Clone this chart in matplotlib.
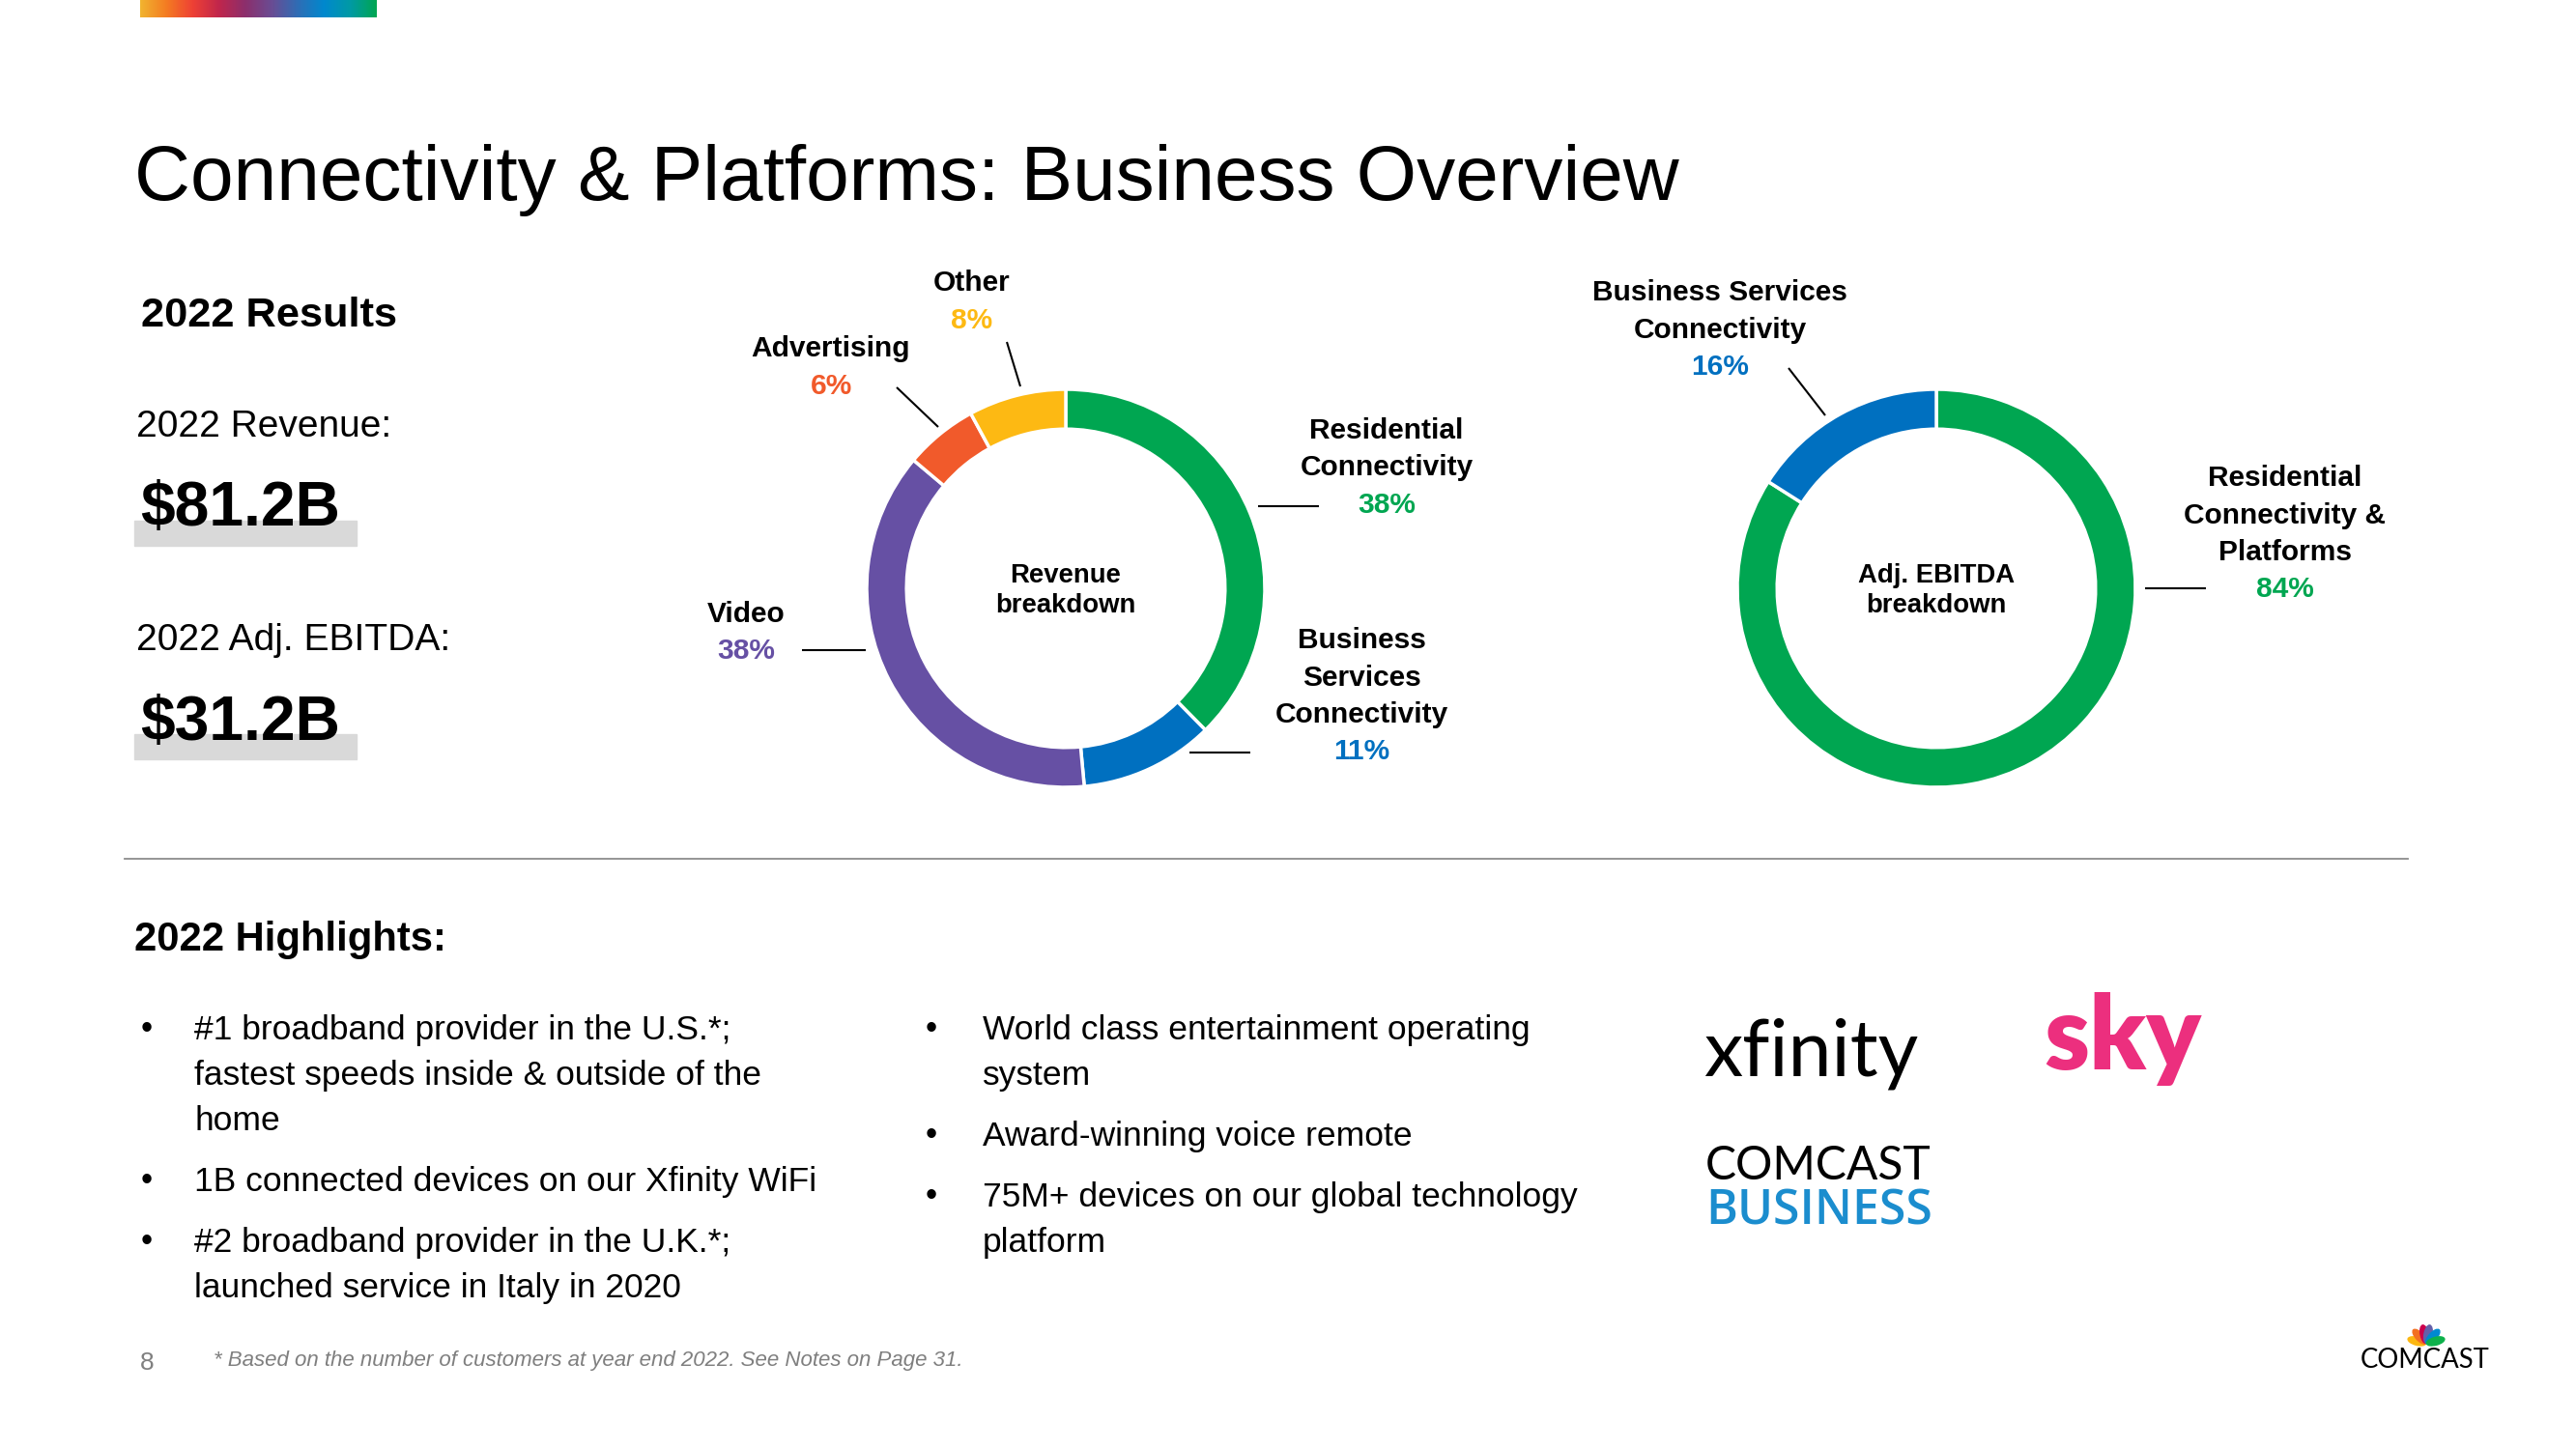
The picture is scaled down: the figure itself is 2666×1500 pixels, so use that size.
import numpy as np
import matplotlib
matplotlib.use("Agg")
import matplotlib.pyplot as plt
from matplotlib.font_manager import FontProperties
from matplotlib.colors import LinearSegmentedColormap
from matplotlib.patches import Rectangle, Ellipse

# ---------------- data ----------------
title = "Connectivity & Platforms: Business Overview"
results_header = "2022 Results"
revenue_label = "2022 Revenue:"
revenue_value = "$81.2B"
ebitda_label = "2022 Adj. EBITDA:"
ebitda_value = "$31.2B"

rev_names = [["Residential", "Connectivity"],
             ["Business", "Services", "Connectivity"],
             ["Video"], ["Advertising"], ["Other"]]
rev_values = [38, 11, 38, 6, 8]
rev_center = ["Revenue", "breakdown"]

ebitda_names = [["Residential", "Connectivity &", "Platforms"],
                ["Business Services", "Connectivity"]]
ebitda_values = [84, 16]
ebitda_center = ["Adj. EBITDA", "breakdown"]

highlights_header = "2022 Highlights:"
bullets_left = [["#1 broadband provider in the U.S.*;", "fastest speeds inside & outside of the", "home"],
                ["1B connected devices on our Xfinity WiFi"],
                ["#2 broadband provider in the U.K.*;", "launched service in Italy in 2020"]]
bullets_right = [["World class entertainment operating", "system"],
                 ["Award-winning voice remote"],
                 ["75M+ devices on our global technology", "platform"]]
footnote = "* Based on the number of customers at year end 2022. See Notes on Page 31."
page_number = "8"
logo_texts = ["xfinity", "sky", "COMCAST", "BUSINESS", "COMCAST"]

# ---------------- styles ----------------
GREEN, BLUE, PURPLE, ORANGE, YELLOW = "#00A651", "#0070C0", "#6650A4", "#F15A2B", "#FDB913"
rev_colors = [GREEN, BLUE, PURPLE, ORANGE, YELLOW]
ebitda_colors = [GREEN, BLUE]
bar_colors = ["#F1B42F", "#F47B22", "#EE4035", "#C0264C", "#8C2F6C", "#6A4C93",
              "#2F6DB5", "#0088CE", "#009AA5", "#00A651"]
peacock_colors = ["#FCB711", "#F37021", "#CC004C", "#6460AA", "#0089D0", "#0DB14B"]

W, H = 2666, 1500
MAIN = ["Liberation Sans", "DejaVu Sans"]
plt.rcParams["font.family"] = MAIN

fig = plt.figure(figsize=(W / 100, H / 100), dpi=100, facecolor="white")
ax0 = fig.add_axes([0, 0, 1, 1])
ax0.set_xlim(0, W)
ax0.set_ylim(H, 0)
ax0.axis("off")
renderer = fig.canvas.get_renderer()


def measure(s, fp):
    return renderer.get_text_width_height_descent(s, fp, ismath=False)


def put(x, y, s, size, weight="normal", color="black", ha="left", style="normal",
        family=None, width=None, clamp=0.12, zorder=4):
    family = family or MAIN
    if width is not None:
        fp = FontProperties(family=family, size=size, weight=weight, style=style)
        w = measure(s, fp)[0]
        size *= float(np.clip(width / w, 1 - clamp, 1 + clamp))
    fp = FontProperties(family=family, size=size, weight=weight, style=style)
    return ax0.text(x, y, s, fontproperties=fp, color=color, ha=ha, va="baseline",
                    parse_math=False, zorder=zorder)


def put_lines(x, y, lines, size, spacing, **kw):
    for i, line in enumerate(lines):
        put(x, y + i * spacing, line, size, **kw)


# ---------------- top gradient bar ----------------
cmap = LinearSegmentedColormap.from_list("bar", bar_colors)
ax0.imshow(np.linspace(0, 1, 256)[None, :], cmap=cmap, extent=[145, 390, 18, 0],
           aspect="auto", zorder=1)

# ---------------- title & results ----------------
put(139, 207, title, 56, width=1598)
put(146, 338, results_header, 31, weight="bold", width=265)
put(141, 452, revenue_label, 28, width=264)
ax0.add_patch(Rectangle((139, 539), 230, 26, color="#D9D9D9", zorder=2))
put(145, 544, revenue_value, 46, weight="bold", width=207)
put(141, 673, ebitda_label, 28, width=325)
ax0.add_patch(Rectangle((139, 760), 230, 26, color="#D9D9D9", zorder=2))
put(145, 766, ebitda_value, 46, weight="bold", width=207)


# ---------------- donuts ----------------
def donut(cx, cy, r, values, colors):
    R = r * 1.02
    ax = fig.add_axes([(cx - R) / W, 1 - (cy + R) / H, 2 * R / W, 2 * R / H])
    ax.pie(values, colors=colors, startangle=90, counterclock=False, radius=1.0,
           wedgeprops=dict(width=0.2, edgecolor="white", linewidth=2.5))
    ax.set_xlim(-1.02, 1.02)
    ax.set_ylim(-1.02, 1.02)
    ax.set_aspect("equal")
    ax.axis("off")
    return ax


donut(1103, 609, 206, rev_values, rev_colors)
donut(2004, 609, 206, ebitda_values, ebitda_colors)

LABEL_SIZE = 21.5
STEP = 38.5
rev_label_pos = [(1435, 454, (1302, 524, 1365, 524)),
                 (1409, 671, (1231, 779, 1294, 779)),
                 (772, 644, (830, 673, 896, 673)),
                 (860, 369, (928, 401, 971, 442)),
                 (1006, 301, (1042, 354, 1056, 400))]
ebitda_label_pos = [(2365, 503, (2220, 609, 2283, 609)),
                    (1780, 311, (1851, 381, 1889, 430))]


def donut_labels(names_list, values, colors, positions):
    for names, v, col, (cx, by, ln) in zip(names_list, values, colors, positions):
        put_lines(cx, by, names, LABEL_SIZE, STEP, weight="bold", ha="center")
        put(cx, by + STEP * len(names), f"{v}%", LABEL_SIZE, weight="bold", ha="center", color=col)
        ax0.plot([ln[0], ln[2]], [ln[1], ln[3]], color="black", lw=1.5,
                 solid_capstyle="butt", zorder=3)


donut_labels(rev_names, rev_values, rev_colors, rev_label_pos)
donut_labels(ebitda_names, ebitda_values, ebitda_colors, ebitda_label_pos)
put_lines(1103, 603, rev_center, 19.8, 31, weight="bold", ha="center")
put_lines(2004, 603, ebitda_center, 19.8, 31, weight="bold", ha="center")

# ---------------- divider ----------------
ax0.plot([129, 2492], [889, 889], color="#8C8C8C", lw=1.3, zorder=2)

# ---------------- highlights ----------------
put(139, 984, highlights_header, 30, weight="bold", width=323)


def bullet_block(xb, xt, y0, items, step=47, gap=63):
    y = y0
    for lines in items:
        put(xb, y - 1, "\u2022", 25)
        put_lines(xt, y, lines, 25.5, step)
        y += step * (len(lines) - 1) + gap


bullet_block(146, 201, 1076, bullets_left)
bullet_block(958, 1017, 1076, bullets_right)

# ---------------- footer ----------------
put(145, 1418, page_number, 19, color="#808080")
put(221, 1414, footnote, 14.5, style="italic", color="#7F7F7F", width=779, clamp=0.2)

# ---------------- logos ----------------
put(1763, 1114, logo_texts[0], 60, family=["Lato", "DejaVu Sans"], width=223, clamp=0.3)
put(2115, 1107, logo_texts[1], 80, weight="heavy", family=["Lato", "DejaVu Sans"],
    color="#EC2F7E", width=163, clamp=0.3)
put(1765, 1221, logo_texts[2], 35, weight="normal", family=["Lato", "DejaVu Sans"],
    width=234, clamp=0.3)
put(1765, 1268, logo_texts[3], 36, weight="semibold", family=["Open Sans", "DejaVu Sans"],
    color="#1B8DCE", width=235, clamp=0.3)
put(2443, 1416, logo_texts[4], 20, weight="normal", family=["Lato", "DejaVu Sans"],
    width=134, clamp=0.3)

# peacock
base_x, base_y = 2511, 1391
for ang, col in zip([165, 133, 101, 79, 47, 15], peacock_colors):
    a = np.deg2rad(ang)
    cx = base_x + 10 * np.cos(a)
    cy = base_y - 10 * np.sin(a)
    ax0.add_patch(Ellipse((cx, cy), 19, 8, angle=-ang, color=col, zorder=3))

ax0.set_xlim(0, W)
ax0.set_ylim(H, 0)
fig.savefig("out.png", dpi=100, facecolor="white")
